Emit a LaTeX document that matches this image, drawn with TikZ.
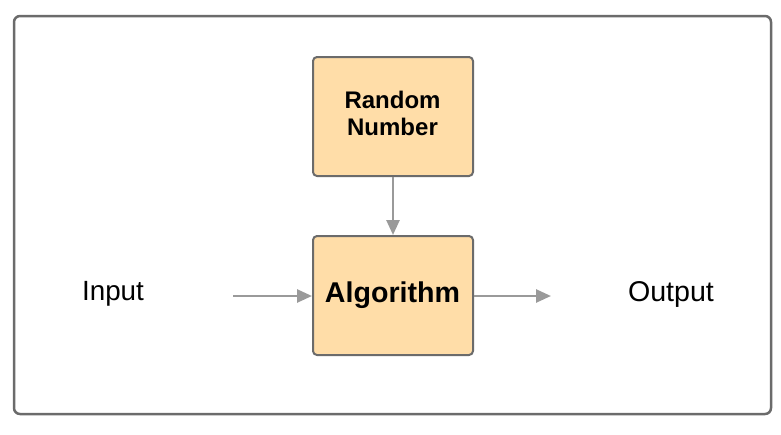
\documentclass[tikz,border=0pt]{standalone}
\usepackage{fontspec}
\setmainfont{Liberation Sans}
\usetikzlibrary{arrows.meta}
\definecolor{boxfill}{HTML}{FFDDA8}
\definecolor{boxline}{HTML}{6B6B6B}
\definecolor{arrowgray}{HTML}{9A9A9A}
\tikzset{
  blockbox/.style={draw=boxline, line width=2pt, fill=boxfill, rounded corners=4pt,
    minimum width=160pt, minimum height=119pt, inner sep=0pt},
  conn/.style={draw=arrowgray, line width=2.6pt, -{Triangle[length=15pt,width=13pt]}},
  plain/.style={font=\fontsize{27.8}{34}\selectfont, anchor=base, inner sep=0pt},
  boldtxt/.style={anchor=base, inner sep=0pt, font=\bfseries\fontsize{24}{26}\selectfont}
}
\begin{document}
\begin{tikzpicture}[x=1pt,y=-1pt]
\useasboundingbox (0,0) rectangle (781,434);
\draw[draw=boxline, line width=2.5pt, rounded corners=6pt] (14,16) rectangle (771,414);
\node[blockbox] (rn) at (393,116.5) {};
\node[blockbox] (alg) at (393,295.5) {};
\node[boldtxt] (rn1) at (392.5,108) {Random};
\node[boldtxt] (rn2) at (392.5,135) {Number};
\node[boldtxt, font=\bfseries\fontsize{28.6}{34}\selectfont] (algt) at (392.5,302) {Algorithm};
\node[plain] (in) at (113,300) {Input};
\node[plain, font=\fontsize{28.6}{34}\selectfont] (out) at (671,301) {Output};
\coordinate (inS) at (233,296);
\coordinate (outE) at (551,296);
\draw[conn] (rn.south) -- (alg.north);
\draw[conn] (inS) -- (alg.west |- inS);
\draw[conn] (alg.east |- outE) -- (outE);
\end{tikzpicture}
\end{document}
